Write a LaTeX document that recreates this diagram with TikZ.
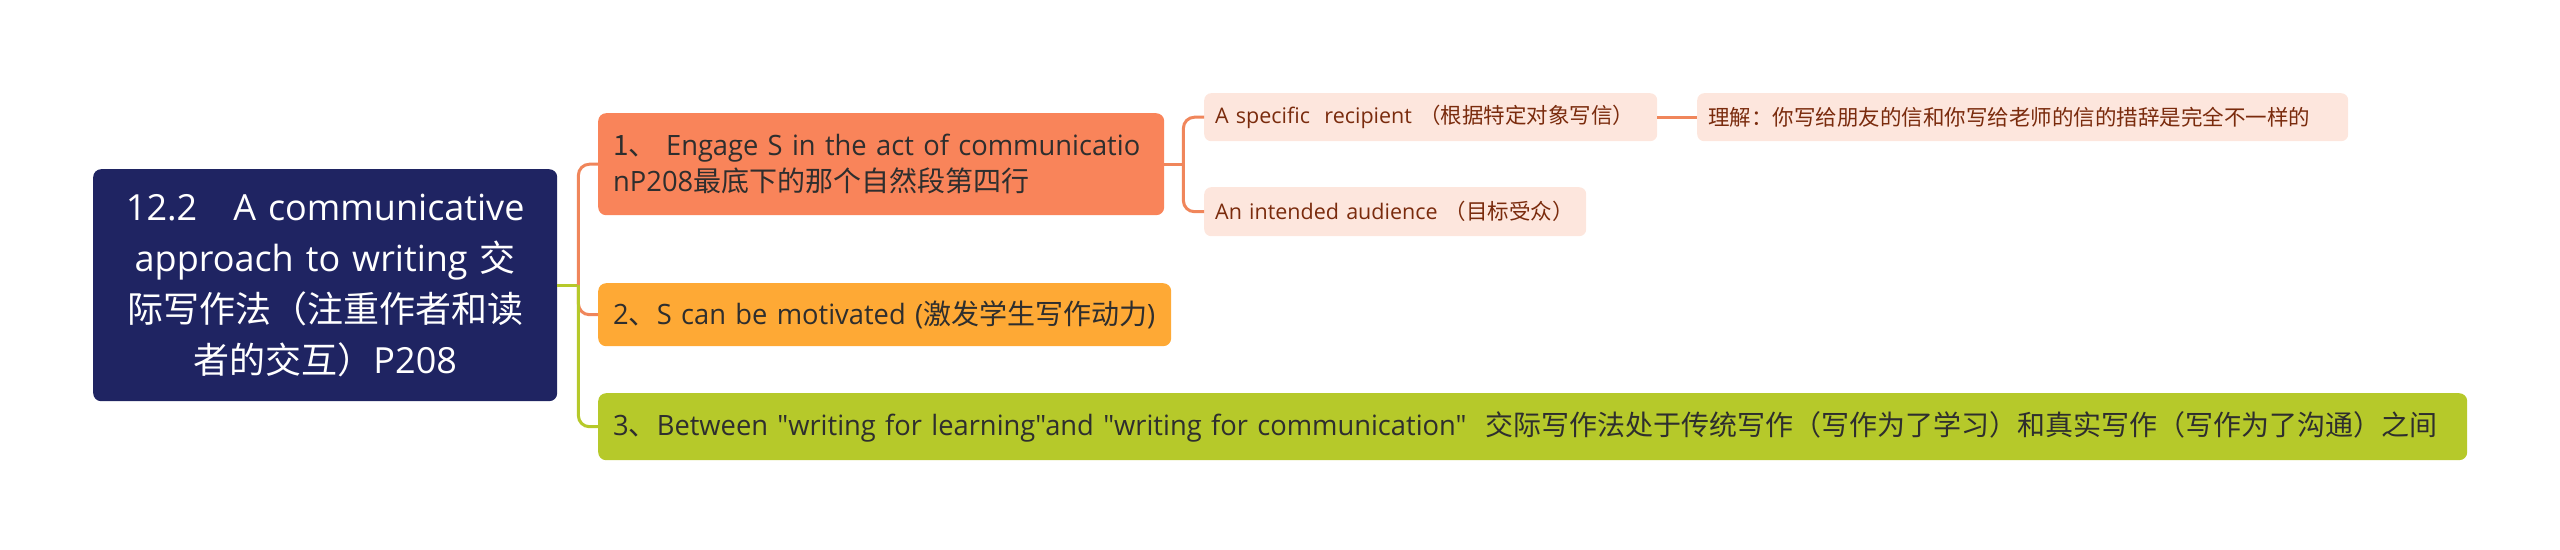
\documentclass[tikz,border=0pt]{standalone}
\usepackage{fontspec}
\setmainfont{Open Sans}[Ligatures=TeXOff]
\newfontfamily\lone{Open Sans}[Ligatures=TeXOff,FakeStretch=0.975]
\newfontfamily\cjk{Noto Sans CJK SC}
\definecolor{rootfill}{HTML}{1F2462}
\definecolor{onefill}{HTML}{F9845A}
\definecolor{twofill}{HTML}{FEA935}
\definecolor{threefill}{HTML}{B6C92A}
\definecolor{subfill}{HTML}{FDE6DD}
\definecolor{subtext}{HTML}{7A2B0D}
\definecolor{maintext}{HTML}{2E2E2E}
\definecolor{orangeline}{HTML}{F0865B}
\definecolor{greenline}{HTML}{B6C92A}
\tikzset{
  box/.style={rectangle, rounded corners=8pt, anchor=north west, inner xsep=15pt, inner ysep=0pt, align=left},
  rootbox/.style={box, fill=rootfill, text=white, align=center, inner xsep=10pt,
     font=\fontsize{36}{51}\selectfont},
  lvlone/.style={box, text=maintext, font=\lone\fontsize{28}{36}\selectfont},
  lvltwo/.style={box, fill=subfill, text=subtext, inner xsep=11pt, rounded corners=7pt,
     font=\fontsize{21.5}{28}\selectfont},
  link/.style={line width=3pt, rounded corners=11pt},
}
\begin{document}
\begin{tikzpicture}[x=1pt,y=-1pt]
\useasboundingbox (0,0) rectangle (2560,549);
\node[rootbox, text width=444pt, minimum width=464pt, minimum height=232pt] (root) at (93,169)
  {\mbox{12.2\ \ \ A communicative}\\\mbox{approach to writing {\cjk 交}}\\\mbox{\cjk 际写作法（注重作者和读}\\\mbox{{\cjk 者的交互）}P208}};
\node[lvlone, fill=onefill, text width=536pt, minimum width=566pt, minimum height=102pt] (n1) at (598,113)
  {\mbox{{\cjk 1、} Engage S in the act of communicatio}\\\mbox{nP208{\cjk 最底下的那个自然段第四行}}};
\node[lvlone, fill=twofill, text width=543pt, minimum width=573pt, minimum height=63pt] (n2) at (598,283)
  {\mbox{2{\cjk 、}S can be motivated ({\cjk 激发学生写作动力})}};
\node[lvlone, fill=threefill, text width=1839pt, minimum width=1869pt, minimum height=67pt] (n3) at (598,393)
  {\mbox{3{\cjk 、}Between "writing for learning"and "writing for communication"\ \ {\cjk 交际写作法处于传统写作（写作为了学习）和真实写作（写作为了沟通）之间}}};
\node[lvltwo, text width=431pt, minimum width=453pt, minimum height=48pt] (s1) at (1204,93)
  {\mbox{A specific\ \ recipient {\cjk （根据特定对象写信）}}};
\node[lvltwo, text width=629pt, minimum width=651pt, minimum height=48pt] (s2) at (1697,93)
  {\mbox{\cjk 理解：你写给朋友的信和你写给老师的信的措辞是完全不一样的}};
\node[lvltwo, text width=360pt, minimum width=382pt, minimum height=49pt] (s3) at (1204,187)
  {\mbox{An intended audience {\cjk （目标受众）}}};
\coordinate (j1) at ([xshift=21pt]root.east);
\coordinate (j2) at ([xshift=19pt]n1.east);
\draw[link, greenline] (root.east) -- (j1);
\draw[link, orangeline] (j1) |- (n1.west);
\draw[link, orangeline] (j1) |- (n2.west);
\draw[link, greenline] (j1) |- (n3.west);
\draw[link, orangeline] (n1.east) -- (j2);
\draw[link, orangeline] (j2) |- (s1.west);
\draw[link, orangeline] (j2) |- (s3.west);
\draw[link, orangeline] (s1.east) -- (s2.west);
\end{tikzpicture}
\end{document}
